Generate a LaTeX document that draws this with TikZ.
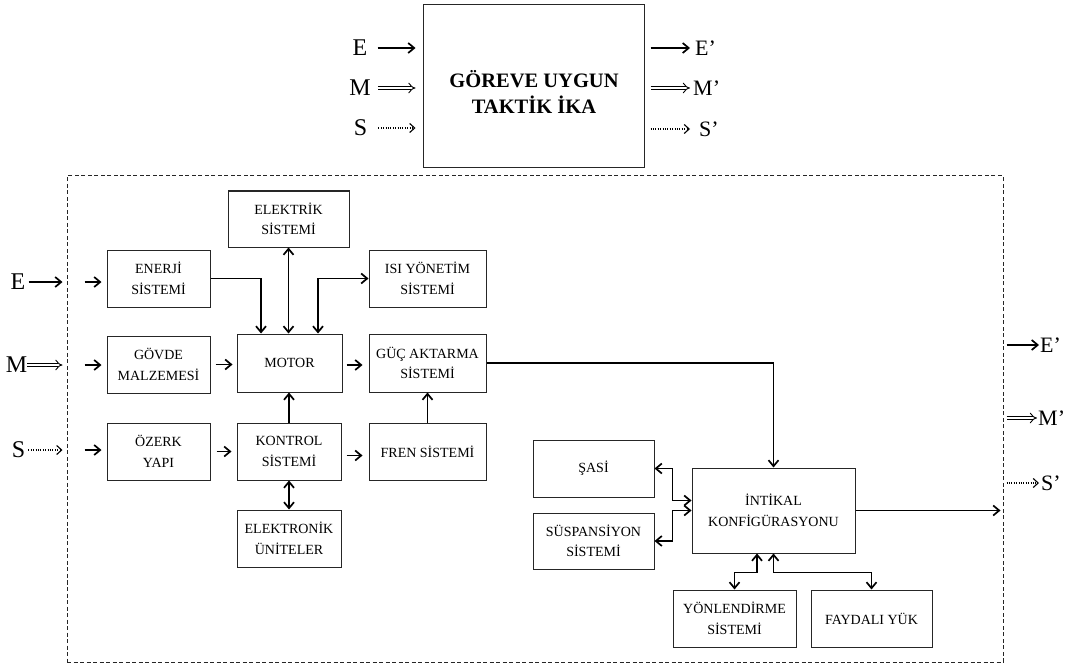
\documentclass[tikz,border=0pt]{standalone}
\usepackage{fontspec}
\setmainfont{Liberation Serif}
\usetikzlibrary{arrows.meta,calc}
\begin{document}
\begin{tikzpicture}[x=1pt,y=-1pt,
  box/.style={draw=black!85, line width=1pt, align=center, inner sep=2pt,
    font=\fontsize{14}{20.5}\selectfont},
  conn/.style={line width=1.7pt, -{Straight Barb[length=6pt,width=10pt]}},
  conn2/.style={line width=1.7pt, {Straight Barb[length=6pt,width=10pt]}-{Straight Barb[length=6pt,width=10pt]}},
  dblarrow/.style={line width=0.9pt, double, double distance=2.8pt, -{Implies}},
  dotarrow/.style={line width=1.1pt, dash pattern=on 1pt off 1.4pt, -{Straight Barb[length=5pt,width=9pt]}},
  biglabel/.style={font=\fontsize{24}{24}\selectfont, inner sep=0pt},
  primelabel/.style={font=\fontsize{22}{22}\selectfont, inner sep=0pt, anchor=west},
  frame/.style={draw=black!85, line width=1pt, dash pattern=on 4pt off 2.5pt}
]
\useasboundingbox (0,0) rectangle (1066,666);

% top block
\node[box, minimum width=221pt, minimum height=163pt] (ika) at (533.5,86.5) {};
\node[align=center, inner sep=0pt, font=\bfseries\fontsize{20.5}{26.5}\selectfont] (ikalabel) at (534,92) {GÖREVE UYGUN\\TAKTİK İKA};
\node[biglabel] (Etop) at (360,48) {E};
\node[biglabel] (Mtop) at (360,88) {M};
\node[biglabel] (Stop) at (360.5,128) {S};
\draw[conn, shorten <=10pt, shorten >=7pt] (Etop.east) -- (Etop.east -| ika.west);
\draw[dblarrow, shorten <=7pt, shorten >=7pt] (Mtop.east) -- (Mtop.east -| ika.west);
\draw[dotarrow, shorten <=11pt, shorten >=7pt] (Stop.east) -- (Stop.east -| ika.west);
\node[primelabel] (Etopo) at (695,48) {E’};
\node[primelabel] (Mtopo) at (693,88) {M’};
\node[primelabel] (Stopo) at (699,129) {S’};
\draw[conn, shorten <=6pt, shorten >=5pt] (Etopo.west -| ika.east) -- (Etopo.west);
\draw[dblarrow, shorten <=6pt, shorten >=3pt] (Mtopo.west -| ika.east) -- (Mtopo.west);
\draw[dotarrow, shorten <=6pt, shorten >=9pt] (Stopo.west -| ika.east) -- (Stopo.west);

% dashed frame
\node[frame, minimum width=936pt, minimum height=486pt] (frame) at (535,419) {};

% boxes
\node[box, minimum width=103pt, minimum height=57pt] (ener) at (158.5,278.5) {ENERJİ\\SİSTEMİ};
\node[box, minimum width=103pt, minimum height=57pt] (govde) at (158.5,364.5) {GÖVDE\\MALZEMESİ};
\node[box, minimum width=103pt, minimum height=57pt] (ozerk) at (158.5,451.5) {ÖZERK\\YAPI};
\node[box, minimum width=121pt, minimum height=56pt] (elek) at (288.5,219) {ELEKTRİK\\SİSTEMİ};
\node[box, minimum width=117pt, minimum height=57pt] (isi) at (427.5,278.5) {ISI YÖNETİM\\SİSTEMİ};
\node[box, minimum width=105pt, minimum height=58pt] (motor) at (289.5,363) {MOTOR};
\node[box, minimum width=117pt, minimum height=58pt] (guc) at (427.5,363) {GÜÇ AKTARMA\\SİSTEMİ};
\node[box, minimum width=104pt, minimum height=57pt] (kontrol) at (289,451.5) {KONTROL\\SİSTEMİ};
\node[box, minimum width=117pt, minimum height=57pt] (fren) at (427.5,451.5) {FREN SİSTEMİ};
\node[box, minimum width=104pt, minimum height=57pt] (elnik) at (289,538.5) {ELEKTRONİK\\ÜNİTELER};
\node[box, minimum width=121pt, minimum height=57pt] (sasi) at (593.5,468.5) {ŞASİ};
\node[box, minimum width=121pt, minimum height=56pt] (sus) at (593.5,541) {SÜSPANSİYON\\SİSTEMİ};
\node[box, minimum width=163pt, minimum height=85pt] (intikal) at (773.5,510.5) {İNTİKAL\\KONFİGÜRASYONU};
\node[box, minimum width=123pt, minimum height=57pt] (yon) at (734.5,618.5) {YÖNLENDİRME\\SİSTEMİ};
\node[box, minimum width=121pt, minimum height=57pt] (fay) at (871.5,618.5) {FAYDALI YÜK};

% outer inputs
\node[biglabel] (Ein) at (18,282) {E};
\node[biglabel] (Min) at (16.5,365) {M};
\node[biglabel] (Sin) at (18.5,450) {S};
\draw[conn, shorten <=3pt, shorten >=4pt] (Ein.east) -- (Ein.east -| frame.west);
\draw[dblarrow, shorten >=4pt] (Min.east) -- (Min.east -| frame.west);
\draw[dotarrow, shorten <=3pt, shorten >=4pt] (Sin.east) -- (Sin.east -| frame.west);
% inner inputs
\draw[conn, shorten <=18pt, shorten >=5pt] (Ein -| frame.west) -- (Ein -| ener.west);
\draw[conn, shorten <=18pt, shorten >=5pt] (Min -| frame.west) -- (Min -| govde.west);
\draw[conn, shorten <=18pt, shorten >=5pt] (Sin -| frame.west) -- (Sin -| ozerk.west);

% outer outputs
\node[primelabel] (Eout) at (1040,345) {E’};
\node[primelabel] (Mout) at (1038,418) {M’};
\node[primelabel] (Sout) at (1041,483) {S’};
\draw[conn, shorten <=3pt, shorten >=1pt] (Eout.west -| frame.east) -- (Eout.west);
\draw[dblarrow, shorten <=3pt, shorten >=1pt] (Mout.west -| frame.east) -- (Mout.west);
\draw[dotarrow, shorten <=3pt, shorten >=2pt] (Sout.west -| frame.east) -- (Sout.west);

% internal connectors
\draw[conn] (ener.east) -| ([xshift=-28.5pt]motor.north);
\draw[conn2] (elek.south) -- (elek.south |- motor.north);
\draw[conn2] ([xshift=28.5pt]motor.north) |- (isi.west);
\draw[conn, shorten <=5pt, shorten >=4pt] (govde.east) -- (govde.east -| motor.west);
\draw[conn, shorten <=4pt, shorten >=6pt] ([yshift=-2pt]motor.east) -- ([yshift=-2pt]motor.east -| guc.west);
\draw[conn, shorten <=6pt, shorten >=5pt] (ozerk.east) -- (ozerk.east -| kontrol.west);
\draw[conn, shorten <=5pt, shorten >=6pt] ([yshift=-4pt]kontrol.east) -- ([yshift=-4pt]kontrol.east -| fren.west);
\draw[conn] (kontrol.north) -- (kontrol.north |- motor.south);
\draw[conn] (fren.north) -- (fren.north |- guc.south);
\draw[conn2] (kontrol.south) -- (kontrol.south |- elnik.north);
\draw[conn] (guc.east) -| (intikal.north);
\draw[conn, shorten >=3pt] (intikal.east) -- (intikal.east -| frame.east);
\draw[conn2] (sasi.east) -| ([xshift=-19pt,yshift=10pt]intikal.west) -- ([yshift=10pt]intikal.west);
\draw[conn2] (sus.east) -| ([xshift=-19pt]intikal.west) -- (intikal.west);
\draw[conn2] ([xshift=-16.5pt]intikal.south) -- ++(0,19) -| (yon.north);
\draw[conn2] (intikal.south) -- ++(0,19) -| (fay.north);
\end{tikzpicture}
\end{document}
